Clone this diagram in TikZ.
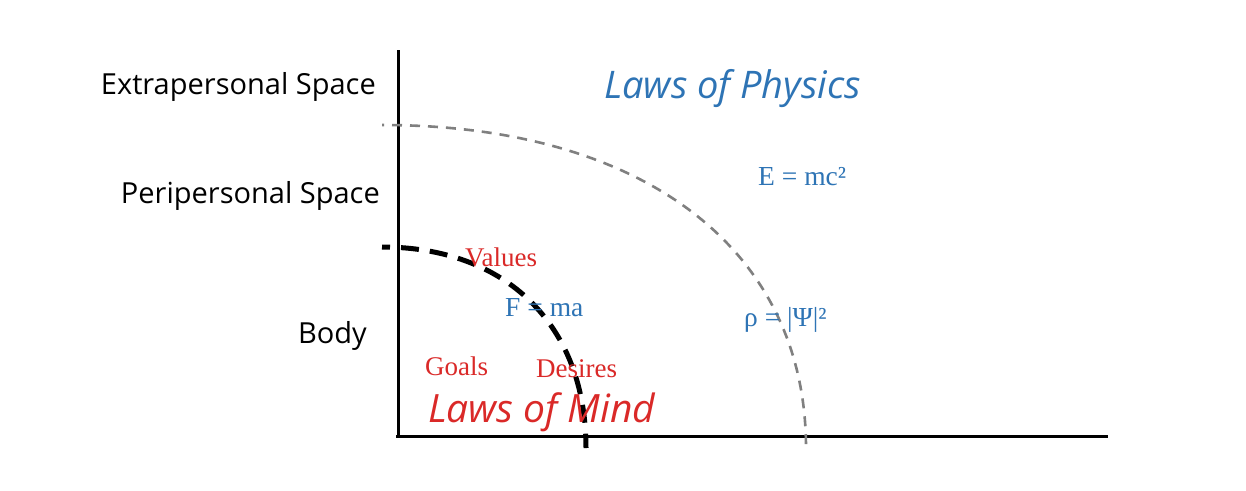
\documentclass[tikz,border=0pt]{standalone}
\usepackage{fontspec}
\setmainfont{Liberation Serif}
\newfontfamily\labelfont{Open Sans}
\definecolor{lawblue}{RGB}{46,116,181}
\definecolor{lawred}{RGB}{218,41,40}
\definecolor{arcgrey}{RGB}{128,128,128}
\tikzset{
  axisline/.style={line width=3pt, black},
  bodyarc/.style={line width=5pt, black, dash pattern=on 18pt off 11pt, dash phase=10pt},
  spacearc/.style={line width=2.6pt, arcgrey, dash pattern=on 10pt off 8pt, dash phase=8pt},
  spacelabel/.style={inner sep=0pt, font=\labelfont\fontsize{29}{34}\selectfont},
  lawlabel/.style={inner sep=0pt, font=\labelfont\itshape\fontsize{38}{44}\selectfont},
  eqlabel/.style={inner sep=0pt, text=lawblue, font=\fontsize{27.5}{32}\selectfont},
  mindlabel/.style={inner sep=0pt, text=lawred, font=\fontsize{27}{32}\selectfont}
}
\begin{document}
\begin{tikzpicture}[x=1pt,y=-1pt]
\useasboundingbox[fill=white] (0,0) rectangle (1246,490);
% axes
\coordinate (ytop) at (398,50);
\coordinate (origin) at (398,437);
\coordinate (xorigin) at (396,436);
\coordinate (xend) at (1108,436);
\draw[axisline] (ytop) -- (origin);
\draw[axisline] (xorigin) -- (xend);
% arcs
\coordinate (greystart) at (382,125);
\coordinate (greyend) at (806,448);
\coordinate (blackstart) at (382,247);
\coordinate (blackend) at (586,448);
\draw[spacearc] (greystart) .. controls (643,125) and (806,249) .. (greyend);
\draw[bodyarc] (blackstart) .. controls (506,247) and (586,325) .. (blackend);
% space labels
\node[spacelabel, anchor=base east] (extra) at (376,94) {Extrapersonal Space};
\node[spacelabel, anchor=base east] (peri) at (380,203) {Peripersonal Space};
\node[spacelabel, anchor=base east] (body) at (367,343) {Body};
% laws
\node[lawlabel, text=lawblue, anchor=base west] (physics) at (604,98) {Laws of Physics};
\node[lawlabel, text=lawred, anchor=base west, font=\labelfont\itshape\fontsize{39}{44}\selectfont] (mind) at (428,422) {Laws of Mind};
% equations
\node[eqlabel, anchor=base west] (emc) at (758,185) {E = mc²};
\node[eqlabel, anchor=base west] (rho) at (744,326) {ρ = |Ψ|²};
\node[eqlabel, anchor=base west] (fma) at (505,316) {F = ma};
% mind terms
\node[mindlabel, anchor=base west] (values) at (465,266) {Values};
\node[mindlabel, anchor=base west] (goals) at (425,375) {Goals};
\node[mindlabel, anchor=base west] (desires) at (536,377) {Desires};
\end{tikzpicture}
\end{document}
